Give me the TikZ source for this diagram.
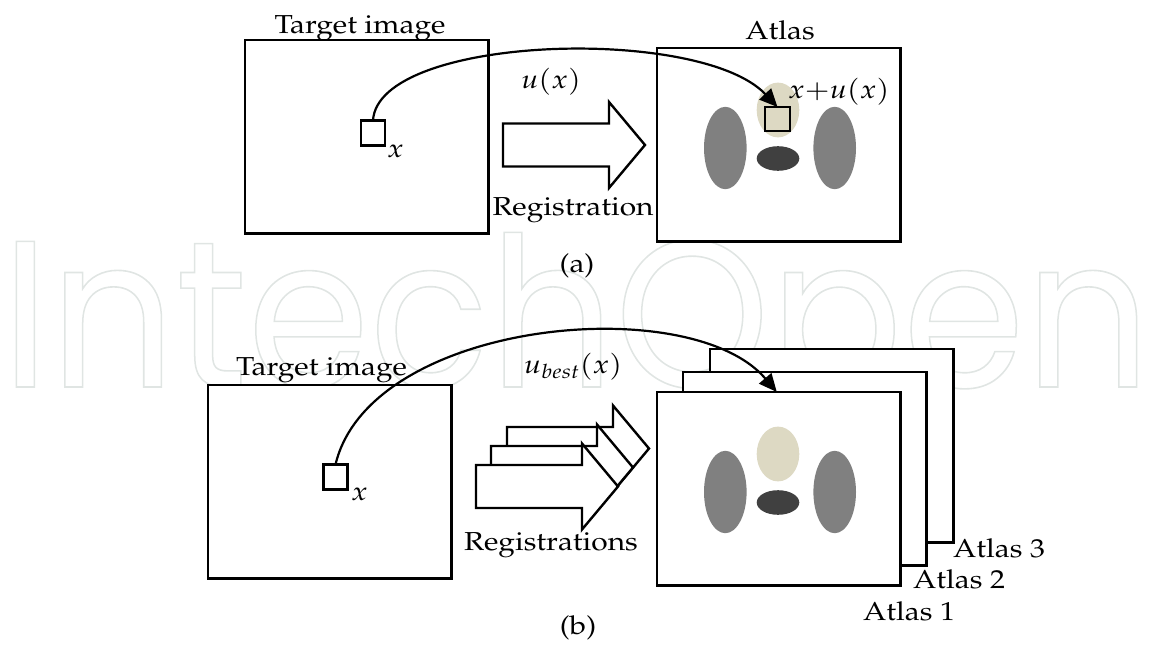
\documentclass[tikz,border=0pt]{standalone}
\usepackage[no-math]{fontspec}
\usepackage[T1]{fontenc}
\usepackage{mathpazo}
\usepackage{graphicx}
\usetikzlibrary{arrows.meta,calc}
\newfontfamily\wmfont{Poppins}
\definecolor{paper}{RGB}{221,217,195}
\definecolor{organ}{RGB}{128,128,128}
\definecolor{core}{RGB}{64,64,64}
\definecolor{wmline}{RGB}{224,229,227}
% labels are set slightly wide
\newcommand{\wide}[1]{\scalebox{1.15}[1]{#1}}
% outlined (stroked) glyphs
\newcommand{\outlined}[1]{\special{pdf:literal direct 1 Tr 1.6 w}#1\special{pdf:literal direct 0 Tr}}
% block arrow: body top-left corner (#1,#2)
\newcommand{\blockarrow}[2]{%
  \draw[blockarrow] (#1,#2) -- ++(106,0) -- ++(0,-21.5) -- ++(36,43)
    -- ++(-36,43) -- ++(0,-21.5) -- ++(-106,0) -- cycle;}
% the four organs of an atlas, relative to its top-left corner
\newcommand{\organs}[1]{%
  \begin{scope}[shift={(#1.north west)}]
    \fill[organ] (68.3,100) ellipse [x radius=21.3, y radius=41.2];
    \fill[organ] (177.7,100) ellipse [x radius=21.3, y radius=41.2];
    \fill[core] (121,110.5) ellipse [x radius=21.3, y radius=12.3];
    \fill[paper] (121,62) ellipse [x radius=21.3, y radius=27.4];
  \end{scope}}
\tikzset{
  frame/.style={draw, line width=2.4pt, fill=white, inner sep=0pt, outer sep=0pt, anchor=north west},
  imgbox/.style={frame, minimum width=243.5pt, minimum height=193.5pt},
  probe/.style={draw, line width=2.2pt, inner sep=0pt, outer sep=0pt, anchor=north west,
                minimum width=24pt, minimum height=25pt},
  lbl/.style={inner sep=0pt, font=\fontsize{26}{30}\selectfont},
  link/.style={line width=2.2pt, -{Triangle[length=18pt,width=16pt]}},
  blockarrow/.style={draw, line width=2.4pt, fill=white, line join=miter},
}
\begin{document}
\begin{tikzpicture}[x=1pt, y=-1pt]
\useasboundingbox (0,0) rectangle (1151,645);

% faint publisher mark across the middle
\node[font=\wmfont\fontsize{209}{209}\selectfont, text=wmline, inner sep=0pt, anchor=base west]
  (wm) at (1,387) {\scalebox{0.942}[1]{\outlined{IntechOpen}}};

% ---------- (a) single atlas ----------
\node[imgbox] (tgtA) at (245,40) {};
\node[imgbox] (atlA) at (657,48) {};
\organs{atlA}
\node[probe] (pA) at (361,120.5) {};
\node[probe, fill=paper, minimum width=25pt, minimum height=24pt] (qA) at (765,107) {};
\blockarrow{503}{123.5}

\node[lbl, anchor=base] (tA) at (360,33) {\wide{Target image}};
\node[lbl, anchor=base] (atlasA) at (780,39) {\wide{Atlas}};
\node[lbl, anchor=base] (uA) at (551,88) {\wide{$u(x)$}};
\node[lbl, anchor=base west] (xA) at (387,157) {\wide{$x$}};
\node[lbl, anchor=base west] (xuA) at (788,98) {\wide{$x{+}u(x)$}};
\node[lbl, anchor=base] (regA) at (573,215) {\wide{Registration}};
\node[lbl, anchor=base] (capA) at (577,272.5) {\wide{(a)}};

\draw[link] (pA.north) .. controls (378,35) and (700,25) .. (qA.north);

% ---------- (b) several atlases ----------
\node[imgbox] (tgtB) at (208,385) {};
\node[imgbox] (atl3) at (710,349) {};
\node[imgbox] (atl2) at (683,372) {};
\node[imgbox] (atl1) at (657,392) {};
\organs{atl1}
\node[probe] (pB) at (323.5,464.5) {};
\blockarrow{507}{427}
\blockarrow{491}{446}
\blockarrow{476}{465}

\node[lbl, anchor=base] (tB) at (321.5,375) {\wide{Target image}};
\node[lbl, anchor=base] (uB) at (573,373) {\wide{$u_{best}(x)$}};
\node[lbl, anchor=base west] (xB) at (351,500) {\wide{$x$}};
\node[lbl, anchor=base] (regB) at (551,550) {\wide{Registrations}};
\node[lbl, anchor=base west] (n3) at (953,557) {\wide{Atlas 3}};
\node[lbl, anchor=base west] (n2) at (913,588) {\wide{Atlas 2}};
\node[lbl, anchor=base west] (n1) at (863,620) {\wide{Atlas 1}};
\node[lbl, anchor=base] (capB) at (578,634.5) {\wide{(b)}};

\draw[link] (pB.north) .. controls (370,320) and (690,290)
  .. ($(atl1.north west)!0.492!(atl1.north east)$);
\end{tikzpicture}
\end{document}
